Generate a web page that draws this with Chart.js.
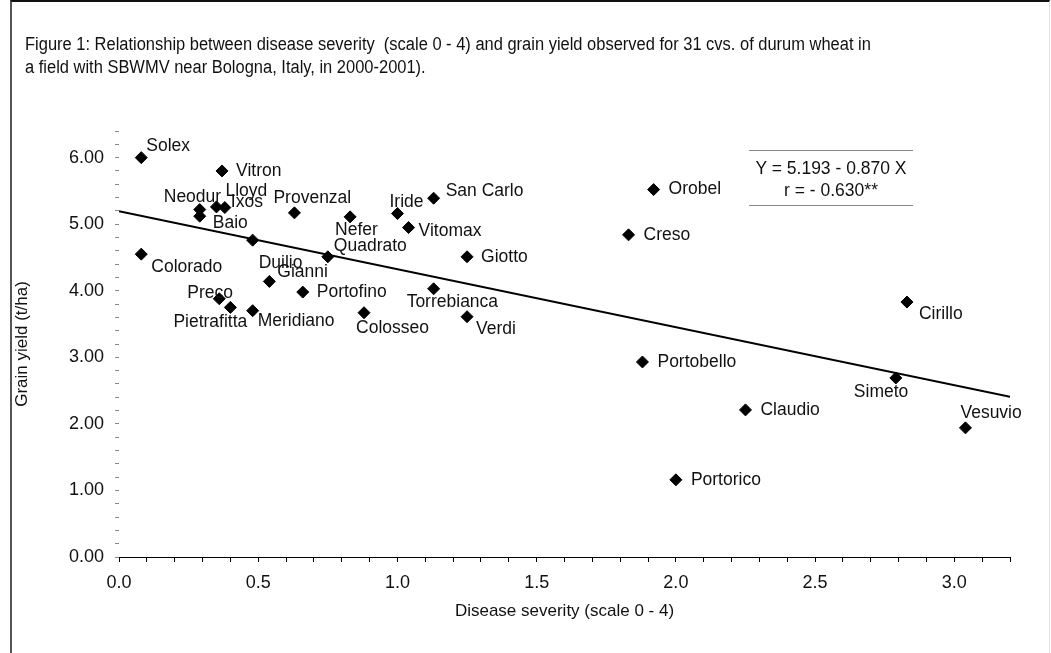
<!DOCTYPE html>
<html lang="en">
<head>
    <meta charset="UTF-8">
    <title>Disease severity vs grain yield</title>
    <script src="https://cdn.jsdelivr.net/npm/chart.js"></script>
    <style>
        body {
            margin: 0;
            background: #ffffff;
            font-family: "Liberation Sans", Arial, sans-serif;
        }

        .frame {
            position: absolute;
            left: 10px;
            top: 0;
            width: 1037px;
            height: 660px;
            border-left: 2px solid #555555;
            border-top: 2px solid #111111;
            border-right: 1px solid #e4e4e4;
        }

        .title {
            position: absolute;
            left: 25px;
            top: 33px;
            font-size: 18px;
            line-height: 23px;
            color: #111111;
            white-space: nowrap;
            transform: scaleX(0.915);
            transform-origin: left top;
        }

        .equation {
            position: absolute;
            left: 749px;
            top: 150px;
            width: 164px;
            height: 56px;
            border-top: 1px solid #888888;
            border-bottom: 1px solid #888888;
            text-align: center;
            font-size: 17.5px;
            line-height: 22px;
            padding-top: 6px;
            box-sizing: border-box;
            color: #111111;
        }

        #chart {
            position: absolute;
            left: 0;
            top: 0;
        }
    </style>
</head>
<body>

<div class="frame"></div>
<canvas id="chart" width="1051" height="653"></canvas>

<div class="title">
    Figure 1: Relationship between disease severity &nbsp;(scale 0 - 4) and grain yield observed for 31 cvs. of durum wheat in<br>
    a field with SBWMV near Bologna, Italy, in 2000-2001).
</div>

<div class="equation">Y = 5.193 - 0.870 X<br>r = - 0.630**</div>

<script>
    // cultivars, disease severity (x) and grain yield (y)
    const cultivars = ['Solex', 'Vitron', 'Neodur', 'Baio', 'Lloyd', 'Ixos', 'Provenzal', 'Duilio',
        'Colorado', 'Gianni', 'Preco', 'Pietrafitta', 'Meridiano', 'Portofino', 'Quadrato', 'Nefer',
        'Iride', 'San Carlo', 'Vitomax', 'Giotto', 'Torrebianca', 'Colosseo', 'Verdi', 'Orobel',
        'Creso', 'Cirillo', 'Portobello', 'Claudio', 'Portorico', 'Simeto', 'Vesuvio'];
    const severity = [0.08, 0.37, 0.29, 0.29, 0.35, 0.38, 0.63, 0.48,
        0.08, 0.54, 0.36, 0.40, 0.48, 0.66, 0.75, 0.83,
        1.00, 1.13, 1.04, 1.25, 1.13, 0.88, 1.25, 1.92,
        1.83, 2.83, 1.88, 2.25, 2.00, 2.79, 3.04];
    const grainYield = [6.00, 5.80, 5.22, 5.12, 5.26, 5.25, 5.17, 4.76,
        4.55, 4.14, 3.88, 3.75, 3.70, 3.98, 4.51, 5.11,
        5.16, 5.39, 4.95, 4.51, 4.03, 3.67, 3.61, 5.52,
        4.84, 3.83, 2.93, 2.21, 1.16, 2.69, 1.94];

    // regression line end points (Y = 5.193 - 0.870 X)
    const fitX = [0, 3.2];
    const fitY = [5.193, 2.409];

    // label placement relative to each marker: [dx, dy, align]
    const labelPos = {
        'Solex': [5, -11, 'left'], 'Vitron': [14, 0, 'left'], 'Neodur': [-36, -12, 'left'],
        'Baio': [13, 7, 'left'], 'Lloyd': [9, -16, 'left'], 'Ixos': [6, -5, 'left'],
        'Provenzal': [-21, -15, 'left'], 'Duilio': [6, 23, 'left'], 'Colorado': [10, 13, 'left'],
        'Gianni': [8, -9, 'left'], 'Preco': [-32, -6, 'left'], 'Pietrafitta': [-57, 15, 'left'],
        'Meridiano': [5, 10, 'left'], 'Portofino': [14, 0, 'left'], 'Quadrato': [6, -11, 'left'],
        'Nefer': [-15, 13, 'left'], 'Iride': [-8, -11, 'left'], 'San Carlo': [12, -7, 'left'],
        'Vitomax': [10, 4, 'left'], 'Giotto': [14, 0, 'left'], 'Torrebianca': [-27, 13, 'left'],
        'Colosseo': [-8, 15, 'left'], 'Verdi': [9, 12, 'left'], 'Orobel': [15, 0, 'left'],
        'Creso': [15, 0, 'left'], 'Cirillo': [12, 12, 'left'], 'Portobello': [15, 0, 'left'],
        'Claudio': [15, 0, 'left'], 'Portorico': [15, 0, 'left'], 'Simeto': [-42, 14, 'left'],
        'Vesuvio': [-5, -15, 'left']
    };

    const points = severity.map((x, i) => ({x: x, y: grainYield[i]}));
    const fitLine = fitX.map((x, i) => ({x: x, y: fitY[i]}));

    const pointLabels = {
        id: 'pointLabels',
        afterDatasetsDraw(chart) {
            const ctx = chart.ctx;
            const meta = chart.getDatasetMeta(1);
            ctx.save();
            ctx.font = '17.5px "Liberation Sans", Arial, sans-serif';
            ctx.fillStyle = '#111111';
            ctx.textBaseline = 'middle';
            meta.data.forEach((pt, i) => {
                const name = cultivars[i];
                const p = labelPos[name] || [12, 0, 'left'];
                ctx.textAlign = p[2];
                ctx.fillText(name, pt.x + p[0], pt.y + p[1]);
            });
            ctx.restore();
        }
    };

    new Chart(document.getElementById('chart').getContext('2d'), {
        type: 'scatter',
        data: {
            datasets: [{
                type: 'line',
                data: fitLine,
                borderColor: '#000000',
                borderWidth: 2,
                pointRadius: 0,
                fill: false
            }, {
                data: points,
                backgroundColor: '#000000',
                borderColor: '#000000',
                pointStyle: 'rectRot',
                pointRadius: 6,
                pointHoverRadius: 6
            }]
        },
        options: {
            responsive: false,
            animation: false,
            events: [],
            layout: {padding: {top: 131, right: 41, left: 0, bottom: 0}},
            plugins: {
                legend: {display: false},
                tooltip: {enabled: false}
            },
            scales: {
                x: {
                    type: 'linear',
                    min: 0,
                    max: 3.2,
                    afterFit: (s) => { s.height = 96; },
                    border: {display: true, color: '#000000', width: 1},
                    grid: {drawOnChartArea: false, tickLength: 5, color: '#000000'},
                    ticks: {
                        stepSize: 0.1,
                        autoSkip: false,
                        maxRotation: 0,
                        padding: 10,
                        color: '#111111',
                        font: {family: '"Liberation Sans", Arial, sans-serif', size: 18},
                        callback: (v) => Math.abs(v * 2 - Math.round(v * 2)) < 1e-6 ? v.toFixed(1) : ''
                    },
                    title: {
                        display: true,
                        text: 'Disease severity (scale 0 - 4)',
                        color: '#111111',
                        font: {family: '"Liberation Sans", Arial, sans-serif', size: 17},
                        padding: {bottom: 31}
                    }
                },
                y: {
                    min: 0,
                    max: 6.4,
                    afterFit: (s) => { s.width = 119; },
                    border: {display: false},
                    grid: {drawOnChartArea: false, tickLength: 4, color: '#888888'},
                    ticks: {
                        stepSize: 0.2,
                        autoSkip: false,
                        padding: 11,
                        color: '#111111',
                        font: {family: '"Liberation Sans", Arial, sans-serif', size: 18},
                        callback: (v) => Math.abs(v - Math.round(v)) < 1e-6 ? v.toFixed(2) : ''
                    },
                    title: {
                        display: true,
                        text: 'Grain yield (t/ha)',
                        color: '#111111',
                        font: {family: '"Liberation Sans", Arial, sans-serif', size: 17},
                        padding: {top: 12}
                    }
                }
            }
        },
        plugins: [pointLabels]
    });
</script>

</body>
</html>
